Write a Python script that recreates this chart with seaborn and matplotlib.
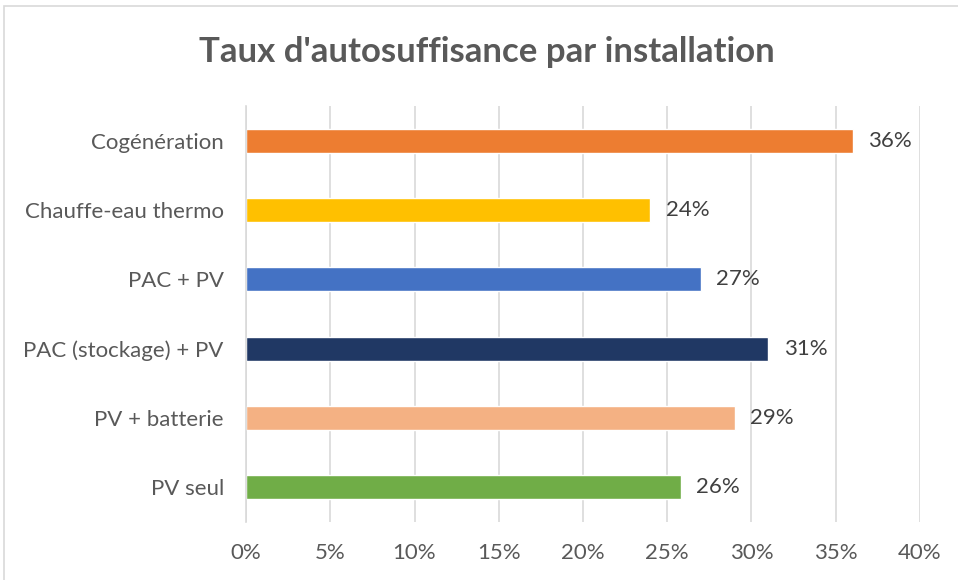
import matplotlib
matplotlib.use("Agg")
import matplotlib.pyplot as plt
from matplotlib.patches import Rectangle
from matplotlib.ticker import FuncFormatter
import pandas as pd
import seaborn as sns

# Self-sufficiency rate per installation type
categories = [
    "Cogénération",
    "Chauffe-eau thermo",
    "PAC + PV",
    "PAC (stockage) + PV",
    "PV + batterie",
    "PV seul",
]
rates = [0.36, 0.24, 0.27, 0.31, 0.29, 0.258]
bar_colors = ["#ED7D31", "#FFC000", "#4472C4", "#203864", "#F4B183", "#70AD47"]
x_ticks = [0.0, 0.05, 0.10, 0.15, 0.20, 0.25, 0.30, 0.35, 0.40]
title = "Taux d'autosuffisance par installation"

df = pd.DataFrame({"installation": categories, "taux": rates})

sns.set_theme(style="white")
plt.rcParams["font.family"] = ["Lato", "DejaVu Sans"]

text_grey = "#595959"
grid_grey = "#D9D9D9"

fig = plt.figure(figsize=(9.58, 5.8), dpi=100)
fig.patch.set_facecolor("white")
ax = fig.add_axes([0.2568, 0.10, 0.9603 - 0.2568, 0.8172 - 0.10])

sns.barplot(
    data=df, x="taux", y="installation", hue="installation",
    palette=bar_colors, order=categories, hue_order=categories,
    orient="h", width=0.35, legend=False, saturation=1, ax=ax,
)

ax.set_xlim(0, 0.40)
ax.set_xticks(x_ticks)
ax.xaxis.set_major_formatter(FuncFormatter(lambda v, _: f"{v:.0%}"))
ax.grid(axis="x", color=grid_grey, linewidth=1.2)
ax.set_axisbelow(True)
ax.set_xlabel("")
ax.set_ylabel("")

for side in ["top", "right", "bottom"]:
    ax.spines[side].set_visible(False)
ax.spines["left"].set_color(grid_grey)
ax.spines["left"].set_linewidth(1.2)

ax.tick_params(axis="x", length=0, pad=15, labelsize=16, labelcolor=text_grey)
ax.tick_params(axis="y", length=0, pad=16, labelsize=16, labelcolor=text_grey)

for container in ax.containers:
    ax.bar_label(container, labels=[f"{v:.0%}" for v in container.datavalues],
                 padding=11, fontsize=16, color="#404040")

fig.text(0.508, 0.910, title, ha="center", va="center",
         fontsize=25, fontweight="bold", color=text_grey)

# Chart frame
fig.patches.append(Rectangle((4 / 958, -0.05), 1.2, 1.05 - 6 / 580,
                             transform=fig.transFigure, fill=False,
                             edgecolor="#D9D9D9", linewidth=1.2))

fig.savefig("out.png", dpi=100, facecolor="white")
